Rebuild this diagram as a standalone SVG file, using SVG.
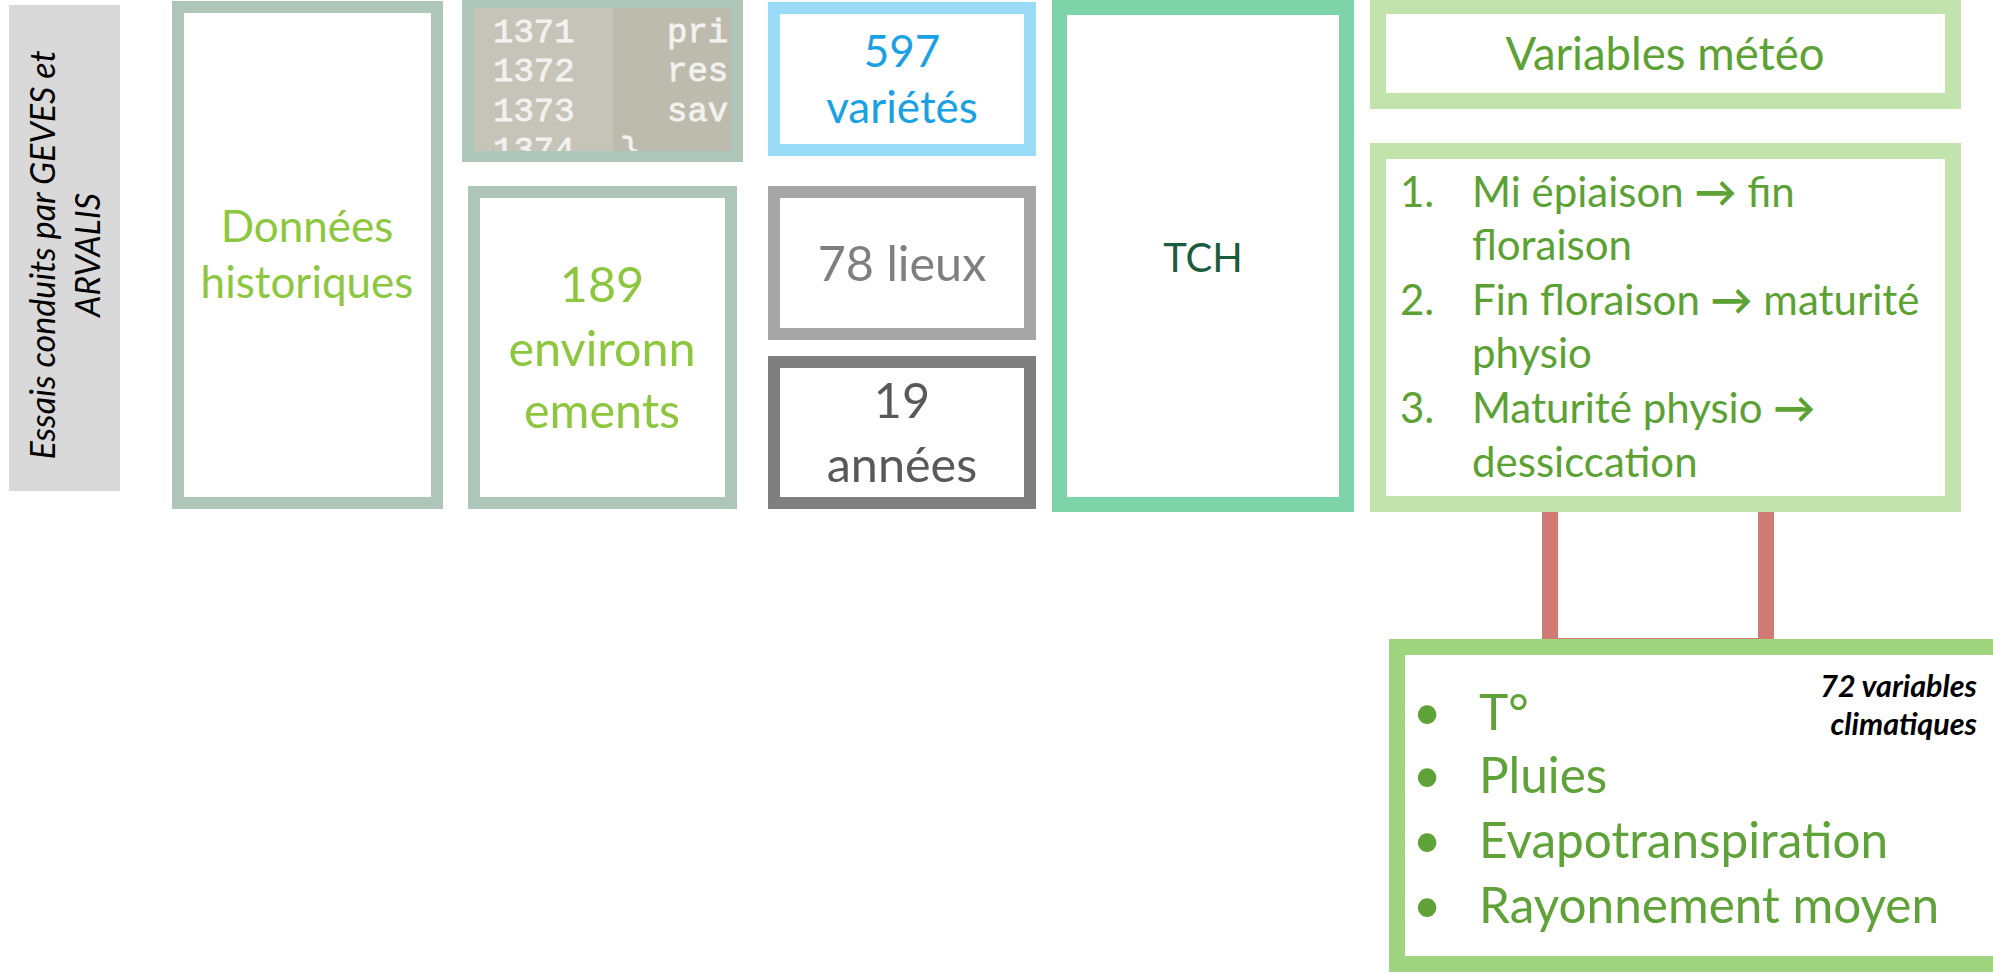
<svg xmlns="http://www.w3.org/2000/svg" width="1993" height="973" viewBox="0 0 1993 973">
  <defs>
    <clipPath id="codeClip">
      <rect x="474" y="8" width="257" height="143"/>
    </clipPath>
  </defs>
  <style>
    text { font-family: "Lato", "DejaVu Sans", sans-serif; }
    .box { fill: #ffffff; }
    .mid { text-anchor: middle; }
    .sage { stroke: #AEC5B9; stroke-width: 12; }
    .lime { fill: #8DC73F; }
    text.mono { font-family: "Liberation Mono", "DejaVu Sans Mono", monospace; font-size: 34px; fill: #F3F2EE; stroke: #F3F2EE; stroke-width: 0.8; }
    .meteo { fill: #5CA133; }
    .leaf { fill: #5FA239; }
  </style>

  <!-- vertical side label -->
  <g id="label-essais">
    <rect x="9" y="5" width="111" height="486" fill="#D9D9D9"/>
    <g transform="rotate(-90)" font-style="italic" font-size="34" fill="#000000">
      <text x="-255" y="55" class="mid">Essais conduits par GEVES et</text>
      <text x="-255" y="100" class="mid">ARVALIS</text>
    </g>
  </g>

  <!-- connectors -->
  <g id="connectors">
    <rect x="1550" y="504" width="216" height="142" fill="none" stroke="#D07A76" stroke-width="16"/>
  </g>

  <g id="node-donnees">
    <rect x="178" y="7" width="259" height="496" class="box sage"/>
    <text x="307" y="242" class="mid lime" font-size="44">Données</text>
    <text x="307" y="298" class="mid lime" font-size="44">historiques</text>
  </g>

  <g id="node-code">
    <rect x="468" y="6" width="269" height="150" class="box sage"/>
    <rect x="474" y="8" width="139" height="143" fill="#C6C4B9"/>
    <rect x="613" y="8" width="118" height="143" fill="#BDBAAE"/>
    <g clip-path="url(#codeClip)">
      <text x="493" y="42" class="mono">1371</text>
      <text x="493" y="81" class="mono">1372</text>
      <text x="493" y="121" class="mono">1373</text>
      <text x="493" y="160" class="mono">1374</text>
      <text x="667" y="42" class="mono">pri</text>
      <text x="667" y="81" class="mono">res</text>
      <text x="667" y="121" class="mono">sav</text>
      <text x="620" y="160" class="mono">}</text>
    </g>
  </g>

  <g id="node-varietes">
    <rect x="774" y="8" width="256" height="142" class="box" stroke="#9ADBF8" stroke-width="12"/>
    <text x="902" y="67" class="mid" font-size="44" fill="#1AA1E3">597</text>
    <text x="902" y="123" class="mid" font-size="44" fill="#1AA1E3">variétés</text>
  </g>

  <g id="node-environnements">
    <rect x="474" y="192" width="257" height="311" class="box sage"/>
    <text x="602" y="302" class="mid lime" font-size="48.5">189</text>
    <text x="602" y="366" class="mid lime" font-size="48.5">environn</text>
    <text x="602" y="428" class="mid lime" font-size="48.5">ements</text>
  </g>

  <g id="node-lieux">
    <rect x="774" y="192" width="256" height="142" class="box" stroke="#A6A6A6" stroke-width="12"/>
    <text x="902" y="281" class="mid" font-size="48.5" fill="#7F7F7F">78 lieux</text>
  </g>

  <g id="node-annees">
    <rect x="774" y="362" width="256" height="141" class="box" stroke="#7F7F7F" stroke-width="12"/>
    <text x="902" y="418" class="mid" font-size="48.5" fill="#595959">19</text>
    <text x="902" y="482" class="mid" font-size="48.5" fill="#595959">années</text>
  </g>

  <g id="node-tch">
    <rect x="1059.5" y="7.5" width="287" height="497" class="box" stroke="#7DD4A9" stroke-width="15"/>
    <text x="1203" y="272" class="mid" font-size="40" fill="#1D5B3F">TCH</text>
  </g>

  <g id="node-meteo">
    <rect x="1378" y="6" width="575" height="95" class="box" stroke="#C2E3AC" stroke-width="16"/>
    <text x="1665" y="70" class="mid meteo" font-size="45.5">Variables météo</text>
  </g>

  <g id="node-periodes" font-size="42">
    <rect x="1378" y="151" width="575" height="353" class="box" stroke="#C2E3AC" stroke-width="16"/>
    <text x="1400" y="207" class="meteo">1.</text>
    <text x="1472" y="207" class="meteo">Mi épiaison <tspan font-weight="bold">→</tspan> fin</text>
    <text x="1472" y="260" class="meteo">floraison</text>
    <text x="1400" y="315" class="meteo">2.</text>
    <text x="1472" y="315" class="meteo">Fin floraison <tspan font-weight="bold">→</tspan> maturité</text>
    <text x="1472" y="368" class="meteo">physio</text>
    <text x="1400" y="423" class="meteo">3.</text>
    <text x="1472" y="423" class="meteo">Maturité physio <tspan font-weight="bold">→</tspan></text>
    <text x="1472" y="477" class="meteo">dessiccation</text>
  </g>

  <g id="node-climat" font-size="49.5">
    <rect x="1397" y="647" width="620" height="317" class="box" stroke="#A0D57F" stroke-width="16"/>
    <text x="1977" y="697" text-anchor="end" font-size="30.5" font-weight="bold" font-style="italic" fill="#000000">72 variables</text>
    <text x="1977" y="735" text-anchor="end" font-size="30.5" font-weight="bold" font-style="italic" fill="#000000">climatiques</text>
    <text x="1427" y="730" class="mid leaf">•</text>
    <text x="1479" y="730" class="leaf">T°</text>
    <text x="1427" y="793" class="mid leaf">•</text>
    <text x="1479" y="793" class="leaf">Pluies</text>
    <text x="1427" y="858" class="mid leaf">•</text>
    <text x="1479" y="858" class="leaf">Evapotranspiration</text>
    <text x="1427" y="923" class="mid leaf">•</text>
    <text x="1479" y="923" class="leaf">Rayonnement moyen</text>
  </g>
</svg>
